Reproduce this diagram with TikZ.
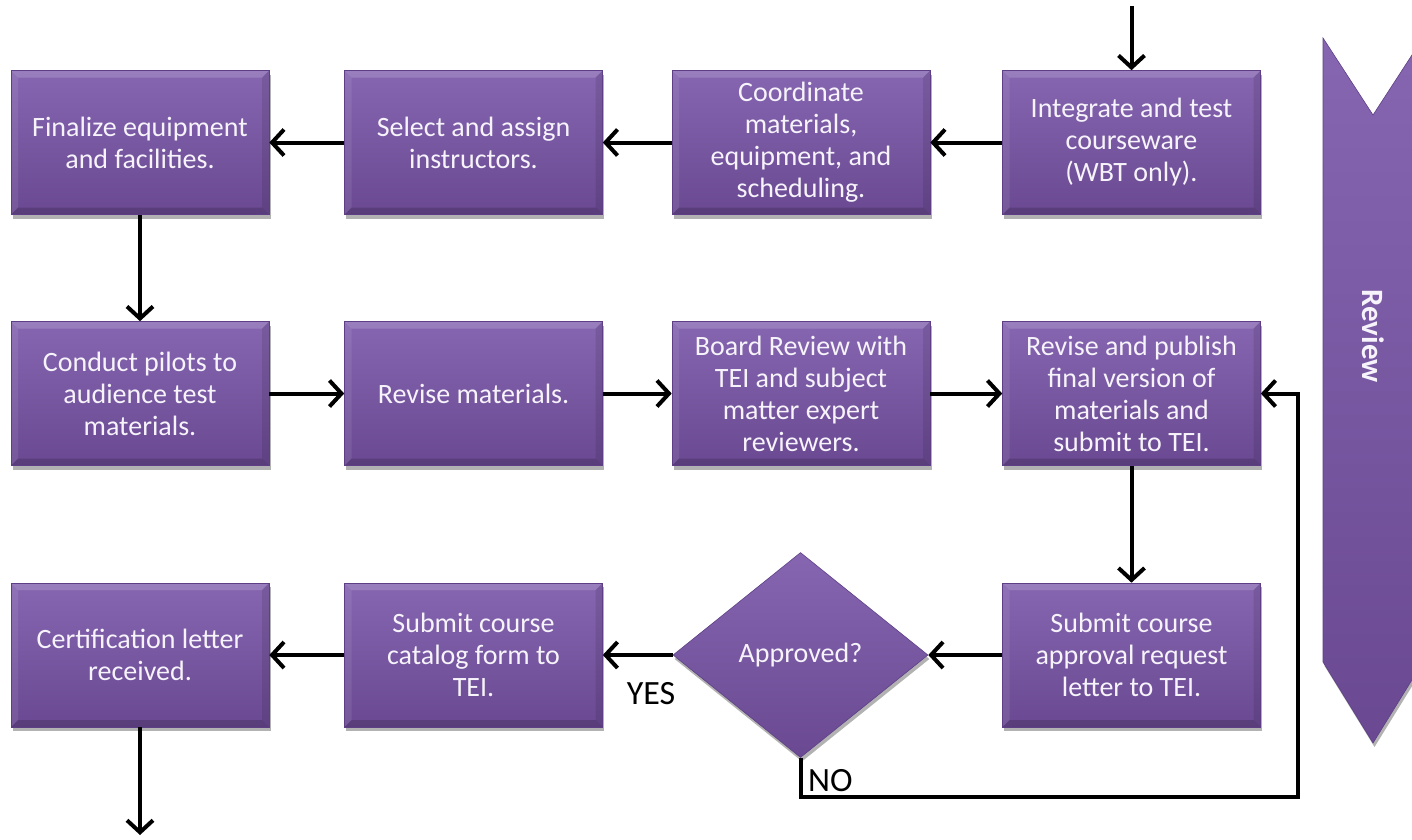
\documentclass[tikz,border=0pt]{standalone}
\usepackage{fontspec}
\setmainfont{Carlito}
\usetikzlibrary{arrows.meta,shapes.geometric,shadows}
\definecolor{boxtop}{HTML}{8666B1}
\definecolor{boxbot}{HTML}{6A4992}
\definecolor{boxedge}{HTML}{5E3F86}
\definecolor{boxtext}{HTML}{F6F3FA}
\tikzset{
  bevel/.style={path picture={
    \fill[white, opacity=0.16] (path picture bounding box.north west) -- (path picture bounding box.north east)
      -- ([xshift=-7pt,yshift=-7pt]path picture bounding box.north east) -- ([xshift=7pt,yshift=-7pt]path picture bounding box.north west) -- cycle;
    \fill[white, opacity=0.08] (path picture bounding box.north west) -- ([xshift=7pt,yshift=-7pt]path picture bounding box.north west)
      -- ([xshift=7pt,yshift=7pt]path picture bounding box.south west) -- (path picture bounding box.south west) -- cycle;
    \fill[black, opacity=0.10] (path picture bounding box.north east) -- ([xshift=-7pt,yshift=-7pt]path picture bounding box.north east)
      -- ([xshift=-7pt,yshift=7pt]path picture bounding box.south east) -- (path picture bounding box.south east) -- cycle;
    \fill[black, opacity=0.16] (path picture bounding box.south west) -- (path picture bounding box.south east)
      -- ([xshift=-7pt,yshift=7pt]path picture bounding box.south east) -- ([xshift=7pt,yshift=7pt]path picture bounding box.south west) -- cycle;
  }},
  pbox/.style={rectangle, minimum width=258pt, minimum height=144pt, inner sep=0pt,
    top color=boxtop, bottom color=boxbot, draw=boxedge, line width=0.6pt, bevel,
    text=boxtext, align=center, font=\fontsize{28}{32}\selectfont,
    drop shadow={shadow xshift=1.5pt, shadow yshift=-4pt, opacity=0.3, fill=black}},
  pdia/.style={diamond, minimum width=255pt, minimum height=205pt, inner sep=0pt,
    top color=boxtop, bottom color=boxbot, draw=boxedge, line width=0.6pt,
    text=boxtext, align=center, font=\fontsize{28}{32}\selectfont,
    drop shadow={shadow xshift=1.5pt, shadow yshift=-4pt, opacity=0.3, fill=black}},
  arr/.style={line width=4pt, -{Straight Barb[length=12pt,width=26pt]}},
  lbl/.style={font=\fontsize{34}{40}\selectfont, text=black, inner sep=0pt}
}
\begin{document}
\begin{tikzpicture}[x=1pt,y=1pt]
\useasboundingbox (0,0) rectangle (1412,-839);
% Review chevron
\path[top color=boxtop, bottom color=boxbot, draw=boxedge, line width=0.6pt,
  drop shadow={shadow xshift=1.5pt, shadow yshift=-4pt, opacity=0.3, fill=black}]
  (1323,-38) -- (1373,-115) -- (1423,-38) -- (1423,-662) -- (1373,-743) -- (1323,-662) -- cycle;
\node[rotate=-90, text=boxtext, font=\bfseries\fontsize{31}{36}\selectfont] (review) at (1373,-336) {Review};
% row 1
\node[pbox] (a1) at (140,-142.5) {Finalize equipment\\and facilities.};
\node[pbox] (a2) at (473.5,-142.5) {Select and assign\\instructors.};
\node[pbox] (a3) at (801,-142.5) {Coordinate\\materials,\\equipment, and\\scheduling.};
\node[pbox] (a4) at (1131.5,-142.5) {Integrate and test\\courseware\\(WBT only).};
% row 2
\node[pbox] (b1) at (140,-393.5) {Conduct pilots to\\audience test\\materials.};
\node[pbox] (b2) at (473.5,-393.5) {Revise materials.};
\node[pbox] (b3) at (801,-393.5) {Board Review with\\TEI and subject\\matter expert\\reviewers.};
\node[pbox] (b4) at (1131.5,-393.5) {Revise and publish\\final version of\\materials and\\submit to TEI.};
% row 3
\node[pbox] (c1) at (140,-655) {Certification letter\\received.};
\node[pbox] (c2) at (473.5,-655) {Submit course\\catalog form to\\TEI.};
\node[pdia] (dia) at (800.5,-655) {Approved?};
\node[pbox] (c4) at (1131.5,-655) {Submit course\\approval request\\letter to TEI.};
% connectors
\coordinate (start) at (1131.5,-6);
\coordinate (finish) at (140,-835);
\coordinate (noc) at (1298,-797);
\draw[arr] (start) -- (a4.north);
\draw[arr] (a4.west) -- (a3.east);
\draw[arr] (a3.west) -- (a2.east);
\draw[arr] (a2.west) -- (a1.east);
\draw[arr] (a1.south) -- (b1.north);
\draw[arr] (b1.east) -- (b2.west);
\draw[arr] (b2.east) -- (b3.west);
\draw[arr] (b3.east) -- (b4.west);
\draw[arr] (b4.south) -- (c4.north);
\draw[arr] (c4.west) -- (dia.east);
\draw[arr] (dia.west) -- (c2.east);
\draw[arr] (c2.west) -- (c1.east);
\draw[arr] (c1.south) -- (finish);
\draw[arr] (dia.south) |- (noc) |- (b4.east);
\node[lbl] (yes) at (651,-694) {YES};
\node[lbl, anchor=west] (no) at (808,-781) {NO};
\end{tikzpicture}
\end{document}
